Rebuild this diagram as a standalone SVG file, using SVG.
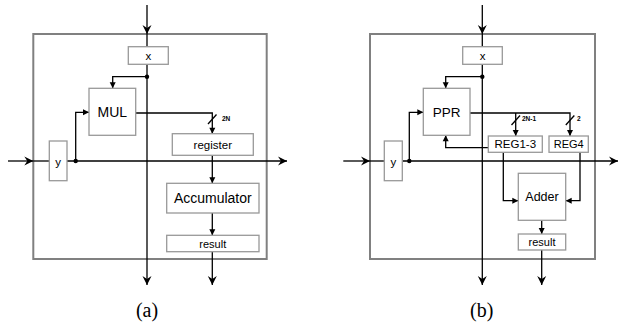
<svg xmlns="http://www.w3.org/2000/svg" width="619" height="328" viewBox="0 0 619 328">
<style>
.frame{fill:none;stroke:#808080;stroke-width:2}
.box{fill:#fff;stroke:#999;stroke-width:1.3}
.w{fill:none;stroke:#000;stroke-width:1.3}
.t{font-family:"Liberation Sans",Arial,sans-serif;fill:#000;text-anchor:middle}
.s{font-family:"Liberation Sans",Arial,sans-serif;font-weight:bold;font-size:6.5px;fill:#000}
.cap{font-family:"Liberation Serif","Times New Roman",serif;font-size:20px;fill:#000;text-anchor:middle}
</style>
<defs>
<marker id="big" markerUnits="userSpaceOnUse" markerWidth="12" markerHeight="12" refX="0" refY="0" viewBox="-10 -6 12 12" orient="auto">
<path d="M0,0 L-9,-4.5 L-6,0 L-9,4.5 z" fill="#000"/>
</marker>
<marker id="sm" markerUnits="userSpaceOnUse" markerWidth="10" markerHeight="10" refX="0" refY="0" viewBox="-8 -4 10 8" orient="auto">
<path d="M0,0 L-6,-3 L-6,3 z" fill="#000"/>
</marker>
</defs>
<rect class="frame" x="33.3" y="34" width="233.4" height="225"/>
<rect class="frame" x="370" y="34" width="225" height="225"/>
<g id="connectors">
<path class="w" d="M147,5 V34" marker-end="url(#big)"/>
<path class="w" d="M147,34 V285" marker-end="url(#big)"/>
<path class="w" d="M8,161 H33.3" marker-end="url(#big)"/>
<path class="w" d="M33.3,161 H49.3"/>
<path class="w" d="M67,161 H287" marker-end="url(#big)"/>
<path class="w" d="M147,76.7 H112.7 V88.3" marker-end="url(#sm)"/>
<path class="w" d="M75.7,161 V112.3 H89" marker-end="url(#sm)"/>
<path class="w" d="M135.7,113 H212.3 V133.7" marker-end="url(#sm)"/>
<path class="w" d="M208,124 L216.5,114.5"/>
<path class="w" d="M212.3,155.3 V183.3" marker-end="url(#sm)"/>
<path class="w" d="M212.3,213 V235.3" marker-end="url(#sm)"/>
<path class="w" d="M212.3,251.7 V285" marker-end="url(#big)"/>
<circle cx="147" cy="76.7" r="2.2" fill="#000"/>
<circle cx="75.7" cy="161" r="2.2" fill="#000"/>
<path class="w" d="M482.3,5 V34" marker-end="url(#big)"/>
<path class="w" d="M482.3,34 V285" marker-end="url(#big)"/>
<path class="w" d="M343.3,161 H370" marker-end="url(#big)"/>
<path class="w" d="M370,161 H384.3"/>
<path class="w" d="M402.3,161 H618" marker-end="url(#big)"/>
<path class="w" d="M482.3,76.7 H445.7 V88.3" marker-end="url(#sm)"/>
<path class="w" d="M409.3,161 V112.3 H423.3" marker-end="url(#sm)"/>
<path class="w" d="M470,113 H570 V136" marker-end="url(#sm)"/>
<path class="w" d="M515.7,113 V136" marker-end="url(#sm)"/>
<path class="w" d="M511.5,125 L520,115.5"/>
<path class="w" d="M565.8,125 L574.3,115.5"/>
<path class="w" d="M488.3,147.7 H445.7 V135.3" marker-end="url(#sm)"/>
<path class="w" d="M503.3,152.3 V200.7 H518.3" marker-end="url(#sm)"/>
<path class="w" d="M580,152.3 V200.7 H565.7" marker-end="url(#sm)"/>
<path class="w" d="M541.7,220.3 V234" marker-end="url(#sm)"/>
<path class="w" d="M541.7,250 V285" marker-end="url(#big)"/>
<circle cx="482.3" cy="76.7" r="2.2" fill="#000"/>
<circle cx="409.3" cy="161" r="2.2" fill="#000"/>
</g>
<g id="a-x"><rect class="box" x="128.3" y="46.7" width="40" height="17.6"/><text class="t" x="148.3" y="59.5" font-size="11.5">x</text></g>
<g id="a-mul"><rect class="box" x="89" y="88.3" width="46.7" height="47"/><text class="t" x="112.3" y="116.8" font-size="14">MUL</text></g>
<g id="a-register"><rect class="box" x="172.3" y="133.7" width="81" height="21.6"/><text class="t" x="212.8" y="148.5" font-size="11.5">register</text></g>
<g id="a-y"><rect class="box" x="49.3" y="141" width="17.7" height="39.7"/><text class="t" x="58.2" y="165.5" font-size="11.5">y</text></g>
<g id="a-acc"><rect class="box" x="166.7" y="183.3" width="92.3" height="29.7"/><text class="t" x="212.8" y="203" font-size="14">Accumulator</text></g>
<g id="a-result"><rect class="box" x="166.7" y="235.3" width="92.3" height="16.4"/><text class="t" x="212.8" y="247.5" font-size="11">result</text></g>
<text class="s" x="222" y="121">2N</text>
<g id="b-x"><rect class="box" x="462.7" y="46.7" width="39.6" height="17.6"/><text class="t" x="482.5" y="59.5" font-size="11.5">x</text></g>
<g id="b-ppr"><rect class="box" x="423.3" y="88.3" width="46.7" height="47"/><text class="t" x="446.7" y="116.8" font-size="13.5">PPR</text></g>
<g id="b-y"><rect class="box" x="384.3" y="141" width="18" height="39.7"/><text class="t" x="393.3" y="165.5" font-size="11.5">y</text></g>
<g id="b-reg13"><rect class="box" x="488.3" y="136" width="54" height="16.3"/><text class="t" x="515.3" y="148.3" font-size="11.5">REG1-3</text></g>
<g id="b-reg4"><rect class="box" x="549" y="136" width="39.3" height="16.3"/><text class="t" x="568.7" y="148.3" font-size="11">REG4</text></g>
<g id="b-adder"><rect class="box" x="518.3" y="173.3" width="47.4" height="47"/><text class="t" x="542" y="201" font-size="12.5">Adder</text></g>
<g id="b-result"><rect class="box" x="518.3" y="234" width="47.4" height="16"/><text class="t" x="542" y="246" font-size="11">result</text></g>
<text class="s" x="522" y="121">2N-1</text>
<text class="s" x="577" y="121">2</text>
<text class="cap" x="147" y="317">(a)</text>
<text class="cap" x="481.7" y="317">(b)</text>
</svg>
